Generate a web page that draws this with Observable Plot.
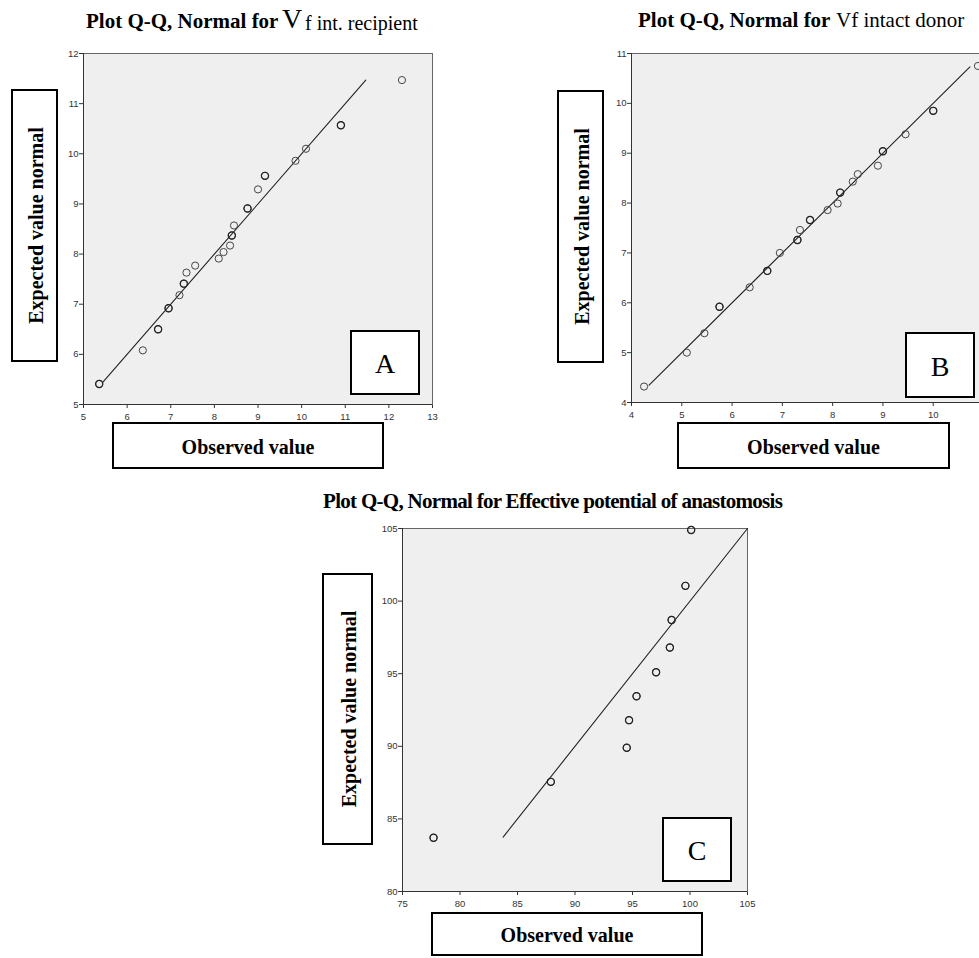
<!DOCTYPE html>
<html>
<head>
<meta charset="utf-8">
<script src="https://cdn.jsdelivr.net/npm/d3@7"></script>
<script src="https://cdn.jsdelivr.net/npm/@observablehq/plot@0.6"></script>
<style>
  html, body { margin: 0; padding: 0; background: #fff; overflow: hidden; width: 979px; height: 958px; position: relative; }
  .chart { position: absolute; overflow: visible; }
  .chart svg { max-width: none !important; }
  #overlay { position: absolute; left: 0; top: 0; pointer-events: none; }
</style>
</head>
<body>
<div id="A" class="chart"></div>
<div id="B" class="chart"></div>
<div id="C" class="chart"></div>
<svg id="overlay" width="979" height="958"></svg>
<script>
// ---------- Panel A: Vf int. recipient ----------
const observedA = [5.36, 6.36, 6.71, 6.95, 7.20, 7.30, 7.36, 7.56, 8.10, 8.21, 8.36, 8.40, 8.45, 8.76, 9.00, 9.16, 9.86, 10.10, 10.90, 12.30];
const expectedA = [5.41, 6.08, 6.50, 6.92, 7.18, 7.41, 7.63, 7.77, 7.91, 8.04, 8.17, 8.37, 8.57, 8.91, 9.29, 9.56, 9.86, 10.10, 10.57, 11.47];
const tiedA     = [1, 0, 1, 1, 0, 1, 0, 0, 0, 0, 0, 1, 0, 1, 0, 1, 0, 0, 1, 0];
const lineA = [5.45, 11.47];
const xTicksA = [5, 6, 7, 8, 9, 10, 11, 12, 13];
const yTicksA = [5, 6, 7, 8, 9, 10, 11, 12];

// ---------- Panel B: Vf intact donor ----------
const observedB = [4.25, 5.10, 5.45, 5.75, 6.35, 6.70, 6.95, 7.30, 7.35, 7.55, 7.90, 8.10, 8.15, 8.40, 8.50, 8.90, 9.00, 9.45, 10.00, 10.89];
const expectedB = [4.32, 5.00, 5.39, 5.92, 6.31, 6.64, 7.00, 7.26, 7.46, 7.66, 7.86, 7.99, 8.21, 8.43, 8.58, 8.75, 9.04, 9.38, 9.85, 10.75];
const tiedB     = [0, 0, 0, 1, 0, 1, 0, 1, 0, 1, 0, 0, 1, 0, 0, 0, 1, 0, 1, 0];
const lineB = [4.35, 10.73];
const xTicksB = [4, 5, 6, 7, 8, 9, 10];
const yTicksB = [4, 5, 6, 7, 8, 9, 10, 11];

// ---------- Panel C: Effective potential of anastomosis ----------
const observedC = [77.7, 87.9, 94.5, 94.7, 95.35, 97.05, 98.25, 98.4, 99.6, 100.1];
const expectedC = [83.7, 87.55, 89.9, 91.8, 93.45, 95.1, 96.8, 98.7, 101.05, 104.9];
const tiedC     = [1, 1, 1, 1, 1, 1, 1, 1, 1, 1];
const lineC = [83.75, 105];
const xTicksC = [75, 80, 85, 90, 95, 100, 105];
const yTicksC = [80, 85, 90, 95, 100, 105];

// ---------- Texts ----------
const titleLead = "Plot Q-Q, Normal for";
const titleA = ["V", "f int. recipient"];
const titleB = "Vf intact donor";
const titleC = "Plot Q-Q, Normal for Effective potential of anastomosis";
const yLabel = "Expected value normal";
const xLabel = "Observed value";
const panelLetters = ["A", "B", "C"];

function qq(el, cfg) {
  const data = cfg.obs.map((o, i) => ({obs: o, exp: cfg.exp[i], tied: cfg.tied[i]}));
  const line = cfg.line.map(v => ({obs: v, exp: v}));
  const chart = Plot.plot({
    width: cfg.width,
    height: cfg.height,
    marginLeft: cfg.ml, marginRight: cfg.mr, marginTop: cfg.mt, marginBottom: cfg.mb,
    style: {background: "transparent", fontFamily: "'Liberation Sans', Arial, sans-serif", fontSize: "9.5px", color: "#333", overflow: "visible", maxWidth: "none"},
    x: {domain: cfg.xdom, ticks: cfg.xticks, tickSize: 4, tickPadding: 5, label: null, tickFormat: d => String(d)},
    y: {domain: cfg.ydom, ticks: cfg.yticks, tickSize: 4, tickPadding: 1, label: null, tickFormat: d => String(d)},
    marks: [
      Plot.frame({fill: "#efefef", stroke: "#666", strokeWidth: 1}),
      Plot.ruleX([cfg.xdom[0]], {stroke: "#333"}),
      Plot.ruleY([cfg.ydom[0]], {stroke: "#333"}),
      Plot.line(line, {x: "obs", y: "exp", stroke: "#222", strokeWidth: 1.1}),
      Plot.dot(data, {x: "obs", y: "exp", r: 3.6, stroke: "#444", strokeWidth: 1, fill: "none"}),
      Plot.dot(data.filter(d => d.tied), {x: "obs", y: "exp", r: 3.6, stroke: "#222", strokeWidth: 1.2, fill: "none"})
    ]
  });
  const host = document.getElementById(el);
  host.style.left = cfg.left + "px";
  host.style.top = cfg.top + "px";
  host.style.width = cfg.width + "px";
  host.style.height = cfg.height + "px";
  chart.style.maxWidth = "none";
  host.appendChild(chart);
}

// Panel A: frame x 83-432, y 53-404
qq("A", {obs: observedA, exp: expectedA, tied: tiedA, line: lineA, xdom: [5, 13], ydom: [5, 12],
  xticks: xTicksA, yticks: yTicksA, left: 0, top: 0, width: 460, height: 440, ml: 83, mr: 28, mt: 53, mb: 36});
// Panel B: frame x 631-983, y 53-402
qq("B", {obs: observedB, exp: expectedB, tied: tiedB, line: lineB, xdom: [4, 11], ydom: [4, 11],
  xticks: xTicksB, yticks: yTicksB, left: 540, top: 0, width: 470, height: 440, ml: 91, mr: 27, mt: 53, mb: 38});
// Panel C: frame x 402-747, y 528-891
qq("C", {obs: observedC, exp: expectedC, tied: tiedC, line: lineC, xdom: [75, 105], ydom: [80, 105],
  xticks: xTicksC, yticks: yTicksC, left: 300, top: 480, width: 480, height: 450, ml: 102, mr: 33, mt: 48, mb: 39});

// ---------- Overlay: titles and label boxes ----------
const svg = d3.select("#overlay");
const serif = "'Liberation Serif', 'Times New Roman', Times, serif";

function box(x0, y0, x1, y1) {
  svg.append("rect").attr("x", x0).attr("y", y0).attr("width", x1 - x0).attr("height", y1 - y0)
    .attr("fill", "#fff").attr("stroke", "#000").attr("stroke-width", 2);
}
function centeredText(txt, cx, cy, size, weight, rotate) {
  const t = svg.append("text").text(txt)
    .attr("font-family", serif).attr("font-size", size).attr("font-weight", weight)
    .attr("text-anchor", "middle").attr("dominant-baseline", "central").attr("fill", "#000");
  if (rotate) t.attr("transform", `translate(${cx},${cy}) rotate(-90)`);
  else t.attr("x", cx).attr("y", cy);
}
function plainText(txt, x, y, size, weight, extra) {
  const t = svg.append("text").text(txt).attr("x", x).attr("y", y)
    .attr("font-family", serif).attr("font-size", size).attr("font-weight", weight).attr("fill", "#000");
  if (extra) t.attr("letter-spacing", extra);
  return t;
}

// Titles
plainText(titleLead, 86, 28, 21, "bold");
plainText(titleA[0], 282, 28, 28, "normal");
plainText(titleA[1], 305, 30, 20, "normal");

plainText(titleLead, 638, 27, 21, "bold");
plainText(titleB, 836, 27, 21, "normal");

plainText(titleC, 323, 508, 21, "bold", -0.7);

// Y label boxes
[[12, 90, 57, 361], [558, 91, 603, 362], [323, 574, 372, 844]].forEach(([x0, y0, x1, y1]) => {
  box(x0, y0, x1, y1);
  centeredText(yLabel, (x0 + x1) / 2 + 1, (y0 + y1) / 2, 20, "bold", true);
});
// X label boxes
[[113, 423, 383, 468], [678, 423, 949, 468], [432, 913, 702, 955]].forEach(([x0, y0, x1, y1]) => {
  box(x0, y0, x1, y1);
  centeredText(xLabel, (x0 + x1) / 2, (y0 + y1) / 2 + 1, 20, "bold", false);
});
// Panel letter boxes
[[351, 331, 419, 394], [906, 333, 974, 397], [663, 818, 731, 881]].forEach(([x0, y0, x1, y1], i) => {
  box(x0, y0, x1, y1);
  centeredText(panelLetters[i], (x0 + x1) / 2, (y0 + y1) / 2 + 1, 28, "normal", false);
});
</script>
</body>
</html>
